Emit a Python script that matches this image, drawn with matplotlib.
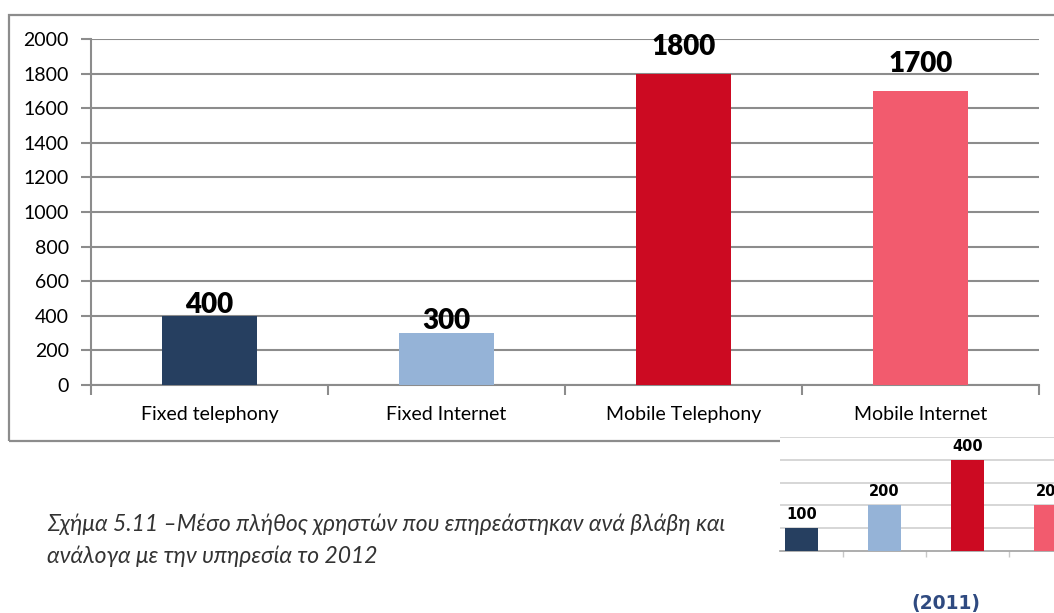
import matplotlib
matplotlib.use("Agg")
import matplotlib.pyplot as plt
from matplotlib.patches import Rectangle

# 2012 averages per service
categories = ['Fixed telephony', 'Fixed Internet', 'Mobile Telephony', 'Mobile Internet']
users_2012 = [400, 300, 1800, 1700]
# 2011 values (small chart)
users_2011 = [100, 200, 400, 200]
yticks = [0, 200, 400, 600, 800, 1000, 1200, 1400, 1600, 1800, 2000]
yticks_2011 = [100, 200, 300, 400, 500]

colors = ['#263F60', '#95B3D7', '#CC0A22', '#F25B6E']
label_pad = [3, 4, 19, 19]   # px gap above bars for value labels

caption_lines = ['Σχήμα 5.11 –Μέσο πλήθος χρηστών που επηρεάστηκαν ανά βλάβη και',
                 'ανάλογα με την υπηρεσία το 2012']

W, H = 1054, 613
fig = plt.figure(figsize=(W / 100, H / 100), dpi=100)

def fx(px):
    return px / W

def fy(py):
    return 1 - py / H

# grey frame around main chart
frame = Rectangle((fx(9), fy(441)), 1.1, fy(15) - fy(441), transform=fig.transFigure,
                  fill=False, edgecolor='#8c8c8c', linewidth=1.6, zorder=0)
fig.patches.append(frame)

ax = fig.add_axes([fx(91), fy(385), fx(1039) - fx(91), fy(39) - fy(385)])
x = list(range(len(categories)))
ax.bar(x, users_2012, width=0.4, color=colors, zorder=3)
ax.set_xlim(-0.5, 3.5)
ax.set_ylim(0, 2000)
ax.set_yticks(yticks)
ax.set_yticklabels([str(v) for v in yticks], fontfamily='Lato', fontsize=14)
ax.set_xticks(x)
ax.set_xticklabels(categories, fontfamily='Lato', fontsize=14)
ax.tick_params(axis='x', length=0, pad=15)
ax.tick_params(axis='y', length=7, width=1.5, color='#8c8c8c', pad=9)
# category separators
ax.set_xticks([-0.5, 0.5, 1.5, 2.5, 3.5], minor=True)
ax.tick_params(axis='x', which='minor', length=7, width=1.5, color='#8c8c8c')
ax.grid(axis='y', color='#8c8c8c', linewidth=1.5, zorder=0)
for s in ['top', 'right']:
    ax.spines[s].set_visible(False)
for s in ['left', 'bottom']:
    ax.spines[s].set_color('#8c8c8c')
    ax.spines[s].set_linewidth(1.5)

for xi, v, p in zip(x, users_2012, label_pad):
    ax.annotate(str(v), (xi, v), xytext=(0, p * 0.72), textcoords='offset points',
                ha='center', va='baseline', fontfamily='Lato', fontweight='heavy',
                fontsize=20, color='black', zorder=4)

# small 2011 chart at the bottom right
ax2 = fig.add_axes([fx(780), fy(551), fx(1100) - fx(780), fy(437) - fy(551)], zorder=5)
ax2.bar(x, users_2011, width=0.4, color=colors, zorder=3)
ax2.set_xlim(-0.256, 3.59)
ax2.set_ylim(0, 500)
ax2.set_yticks(yticks_2011)
ax2.set_yticklabels([])
ax2.tick_params(axis='y', length=0)
ax2.set_xticks([0.5, 1.5, 2.5])
ax2.set_xticklabels([])
ax2.tick_params(axis='x', length=4, width=1, color='#c8c8c8')
ax2.grid(axis='y', color='#d0d0d0', linewidth=1.2, zorder=0)
for s in ['top', 'right', 'left']:
    ax2.spines[s].set_visible(False)
ax2.spines['bottom'].set_color('#a0a0a0')
ax2.spines['bottom'].set_linewidth(1.2)
for xi, v in zip(x, users_2011):
    ax2.annotate(str(v), (xi, v), xytext=(0, 6.5), textcoords='offset points',
                 ha='center', va='baseline', fontfamily='DejaVu Sans',
                 fontweight='bold', fontsize=10.5, color='black')

fig.text(fx(946), fy(603), '(2011)', ha='center', va='center', fontfamily='DejaVu Sans',
         fontweight='bold', fontsize=13.5, color='#2F4A80')

for line, base in zip(caption_lines, [531, 563]):
    fig.text(fx(47), fy(base), line, ha='left', va='baseline', fontfamily='Lato',
             style='italic', fontweight='normal', fontsize=16.5, color='#333333')

fig.savefig('out.png', dpi=100)
